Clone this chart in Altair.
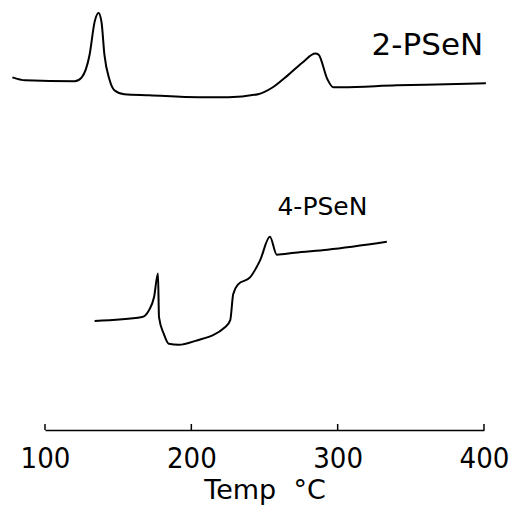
import altair as alt
import pandas as pd

# 2-PSeN trace (temperature °C, signal in arbitrary units)
t_2 = [77.7, 86.5, 120.3, 125.1, 130.5, 133.9, 136.6, 138.6, 140.6, 144.0, 147.4,
       154.2, 171.1, 205.0, 225.3, 245.6, 255.7, 265.9, 276.0, 284.8, 286.9,
       293.0, 297.0, 303.1, 340.4, 374.2, 401.3]
s_2 = [356, 353, 352, 356, 379, 412, 421, 412, 379, 354, 343,
       339, 338, 336, 336, 339, 346, 358, 371, 380, 379,
       354, 346, 346, 348, 349, 350]

# 4-PSeN trace
t_4 = [133.9, 166.4, 171.1, 174.5, 177.2, 177.9, 181.2, 184.6, 191.4, 202.9,
       223.2, 226.6, 228.6, 232.0, 240.1, 246.9, 253.7, 258.4, 270.6, 293.0, 333.6]
s_4 = [110, 114, 121, 134, 158, 114, 97, 87, 86, 90,
       104, 111, 137, 147, 154, 171, 195, 177, 179, 182, 190]

tick_values = [100, 200, 300, 400]
labels = ["2-PSeN", "4-PSeN"]
label_t = [361.3, 289.6]
label_s = [388, 225]
label_size = [31, 25]

W, H = 439, 422
FONT = "DejaVu Sans"
TICK_FONT = "DejaVu Sans Condensed, DejaVu Sans"

df = pd.concat([
    pd.DataFrame({"T": t_2, "S": s_2, "sample": "2-PSeN", "i": range(len(t_2))}),
    pd.DataFrame({"T": t_4, "S": s_4, "sample": "4-PSeN", "i": range(len(t_4))}),
])

x_scale = alt.Scale(domain=[100, 400], nice=False)
y_scale = alt.Scale(domain=[0, 426], nice=False)

lines = alt.Chart(df).mark_line(color="black", strokeWidth=2, clip=False, interpolate="monotone").encode(
    x=alt.X("T:Q", scale=x_scale,
            axis=alt.Axis(values=tick_values, title="Temp\u00a0\u00a0°C", ticks=False, grid=False,
                          domainColor="black", domainWidth=1.5, labelFont=TICK_FONT,
                          labelFontSize=29, labelColor="black", labelPadding=14,
                          labelFlush=False, labelOverlap=False,
                          titleFont=FONT, titleFontSize=27, titleFontWeight="normal",
                          titleColor="black", titlePadding=4)),
    y=alt.Y("S:Q", scale=y_scale, axis=None),
    detail="sample:N",
    order="i:Q",
)

ticks = alt.Chart(pd.DataFrame({"T": tick_values})).mark_rule(color="black", strokeWidth=1.5).encode(
    x=alt.X("T:Q", scale=x_scale),
    y=alt.value(H),
    y2=alt.value(H - 6),
)

text = alt.Chart(pd.DataFrame({"T": label_t, "S": label_s, "label": labels, "size": label_size})).mark_text(
    font=FONT, color="black", align="center", baseline="middle"
).encode(
    x=alt.X("T:Q", scale=x_scale),
    y=alt.Y("S:Q", scale=y_scale),
    text="label:N",
    size=alt.Size("size:Q", scale=None, legend=None),
)

chart = alt.layer(lines, ticks, text).properties(
    width=W, height=H,
    autosize=alt.AutoSizeParams(type="none"),
    padding={"left": 37, "top": 0, "right": 27, "bottom": 81},
    background="white",
).configure_view(stroke=None)

chart.save("out.html", embed_options={"renderer": "svg", "actions": False})
